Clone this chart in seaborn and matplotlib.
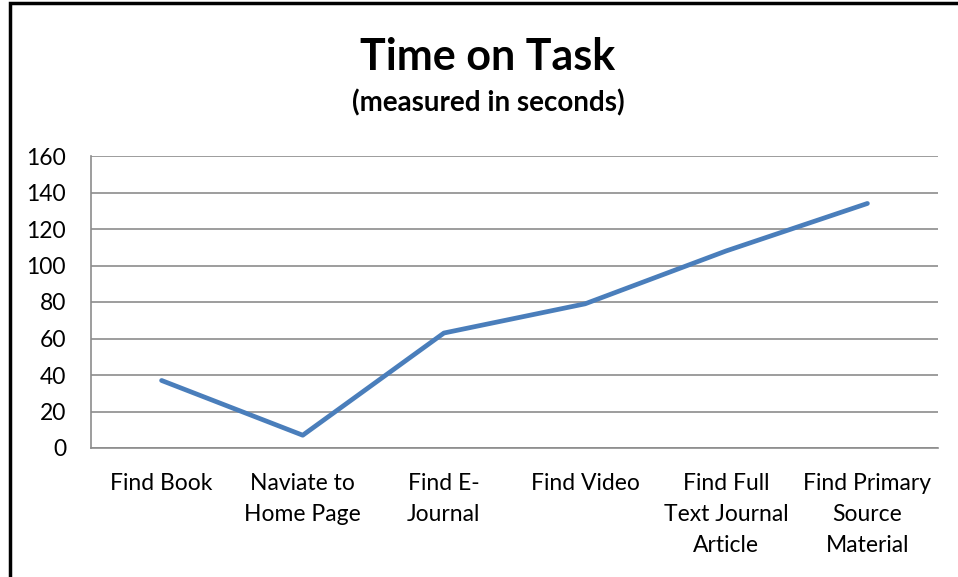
import numpy as np
import pandas as pd
import matplotlib
matplotlib.use("Agg")
import matplotlib.pyplot as plt
import seaborn as sns
from matplotlib.patches import Rectangle
from matplotlib.ticker import FixedLocator

# data
tasks = ["Find Book", "Naviate to\nHome Page", "Find E-\nJournal", "Find Video",
         "Find Full\nText Journal\nArticle", "Find Primary\nSource\nMaterial"]
seconds = [37, 7, 63, 79, 108, 134]
y_ticks = [0, 20, 40, 60, 80, 100, 120, 140, 160]

sns.set_style("white")
plt.rcParams['font.family'] = ['Lato', 'DejaVu Sans']
plt.rcParams['text.color'] = 'black'
plt.rcParams['xtick.labelcolor'] = 'black'
plt.rcParams['ytick.labelcolor'] = 'black'

df = pd.DataFrame({'pos': np.arange(len(tasks)), 'seconds': seconds})

fig = plt.figure(figsize=(9.58, 5.77), dpi=100)
ax = fig.add_axes([91 / 958, 1 - 448 / 577, (938 - 91) / 958, (448 - 156) / 577])

sns.lineplot(data=df, x='pos', y='seconds', ax=ax, color='#4A7EBB', linewidth=3.4,
             solid_capstyle='round', solid_joinstyle='round')

ax.set_xlim(-0.5, len(tasks) - 0.5)
ax.set_ylim(0, 160)
ax.set_yticks(y_ticks)
ax.set_yticklabels([str(v) for v in y_ticks], fontsize=16.5)
ax.yaxis.grid(True, color='#8c8c8c', linewidth=1.2)
ax.set_axisbelow(True)

ax.set_xticks(df['pos'])
ax.set_xticklabels(tasks, fontsize=16.5, linespacing=1.58)
ax.xaxis.set_minor_locator(FixedLocator(np.arange(-0.5, len(tasks), 1.0)))
ax.tick_params(axis='x', which='major', length=0, pad=18)
ax.tick_params(axis='x', which='minor', length=7, width=1.2, color='#8c8c8c', direction='out')
ax.tick_params(axis='y', length=7, width=1.2, color='#8c8c8c', direction='out', pad=11)
ax.set_xlabel('')
ax.set_ylabel('')

for side in ['top', 'right']:
    ax.spines[side].set_visible(False)
for side in ['left', 'bottom']:
    ax.spines[side].set_color('#8c8c8c')
    ax.spines[side].set_linewidth(1.2)

fig.text(488 / 958, 1 - 57 / 577, 'Time on Task', ha='center', va='center',
         fontsize=31, fontweight='bold')
fig.text(488 / 958, 1 - 103 / 577, '(measured in seconds)', ha='center', va='center',
         fontsize=20, fontweight='bold')

# outer chart border, cropped on the right and bottom
fig.patches.append(Rectangle((10 / 958, -0.1), 1.2, 1 - 3 / 577 + 0.1,
                             transform=fig.transFigure, fill=False,
                             edgecolor='black', linewidth=2.5))

fig.savefig('out.png', dpi=100)
